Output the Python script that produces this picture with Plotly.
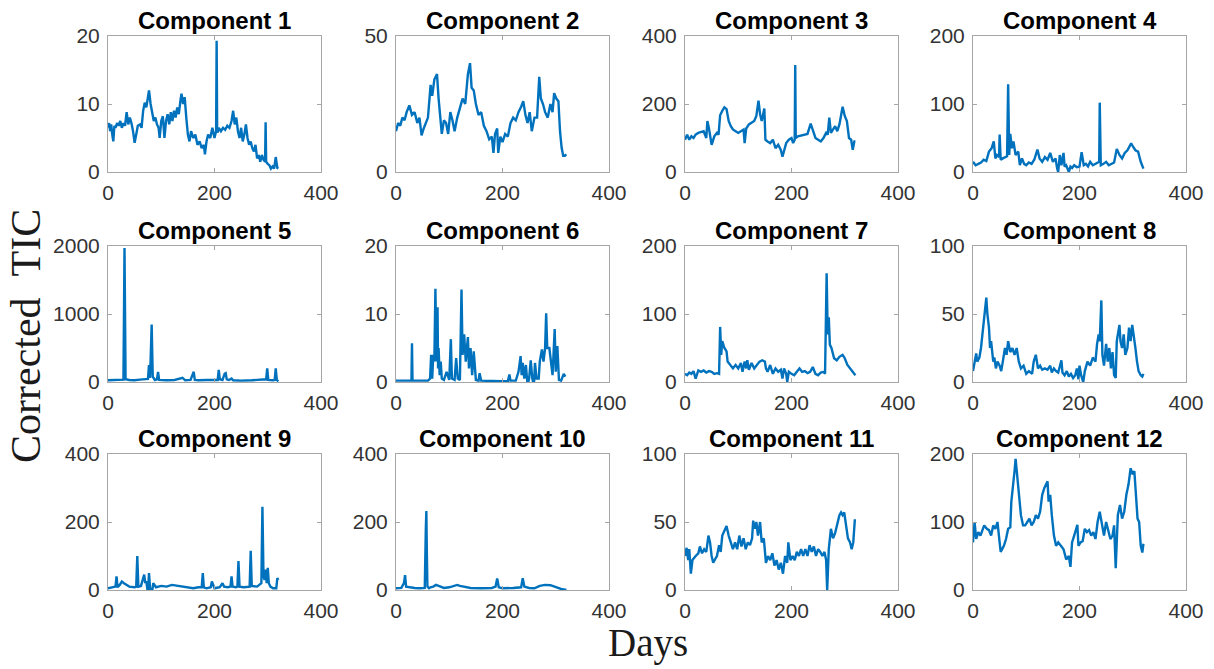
import plotly.graph_objects as go
from plotly.subplots import make_subplots

W, H = 1214, 669

# ---------------- data ----------------
days_c1 = [0,2,4,6,8,10,12,14,17,20,23,26,29,32,35,38,41,44,47,50,53,56,60,63,66,69,72,75,77,80,83,86,89,92,95,97,100,103,106,109,112,115,118,121,124,127,130,133,136,138,141,144,147,150,153,156,160,164,168,172,176,180,182,185,188,192,196,200,203,204,205,206,208,212,216,220,224,228,232,235,238,241,244,247,250,253,256,259,262,265,268,271,274,277,280,283,286,289,292,295,296,297,300,303,306,309,312,315,318,320]
tic_c1 = [6.5,7.2,6.0,7.0,5.5,4.5,6.8,6.5,7.2,6.8,7.5,6.5,7.2,6.8,8.8,7.0,8.0,7.2,6.0,4.3,5.5,6.8,7.0,6.5,9.0,10.2,9.5,11.0,12.0,10.0,8.5,7.5,8.0,7.0,6.5,5.0,7.5,8.2,5.0,7.5,8.5,7.0,8.8,7.5,9.0,8.0,9.5,8.5,10.5,11.5,10.0,11.0,8.0,5.5,4.5,6.0,5.0,5.5,4.0,4.5,3.5,4.0,2.6,4.5,5.5,5.0,6.5,5.0,6.0,19.3,6.0,5.8,6.5,6.0,6.5,6.2,6.8,6.5,7.5,9.0,7.0,8.0,6.0,5.0,6.5,4.5,5.5,7.0,5.0,4.0,4.5,3.5,3.0,4.0,2.0,2.5,1.5,2.5,1.8,1.5,7.3,1.5,1.2,1.0,0.5,0.8,0.5,2.2,0.6,0.5]

days_c2 = [0,4,8,12,16,20,25,30,35,40,44,48,52,56,60,65,68,72,77,80,83,86,90,94,98,102,106,110,115,120,125,130,135,139,142,146,150,155,160,165,170,175,180,183,186,190,192,196,200,205,210,215,220,225,230,235,239,243,247,251,255,260,265,269,272,276,280,285,290,294,297,301,305,308,311,314,317,320]
tic_c2 = [15,18,17,20,19,22,24.5,21,22,18,20,13.5,16,18,20,32,28,34,36,27,20,14,19,18,14,22,19,15,20,24,27,25,36,40,31,30,25,21,22,17,15,12,13,7,14,16,7,13,11,14,13,18,20,19,22,24,26,21,18,22,15,20,20,35,27,25,22,20,25,22,29,27,26,15,9,6,6,6.5]

days_c3 = [0,4,8,12,16,20,25,30,35,40,42,45,50,55,60,63,66,70,74,78,82,86,90,95,100,105,110,112,115,120,125,130,134,138,141,144,149,151,155,160,165,170,175,180,183,186,190,195,200,203,206,207,208,212,218,224,230,236,240,245,250,255,260,265,268,271,274,278,282,286,290,296,300,304,308,312,315,318,320]
tic_c3 = [95,110,95,105,100,110,115,118,120,100,150,128,80,105,115,110,167,180,190,185,150,135,125,120,115,120,125,85,128,140,145,150,165,210,170,150,187,95,90,85,95,70,80,65,45,65,85,95,100,85,95,315,100,105,108,110,112,142,120,100,95,90,100,115,110,160,115,125,135,120,140,192,165,150,100,95,65,90,90]

days_c4 = [0,5,10,15,20,25,30,35,39,42,45,49,50,52,56,60,64,66,68,70,73,76,80,85,88,92,96,100,105,110,115,121,125,130,135,140,145,150,155,158,160,163,166,170,172,175,180,183,186,190,195,200,204,208,212,216,220,225,230,235,237,238,240,245,250,255,260,265,270,275,280,285,290,297,300,305,310,315,320]
tic_c4 = [15,10,12,14,18,16,30,35,45,20,25,22,55,18,20,22,23,129,25,56,35,45,25,30,10,20,12,10,14,12,18,33,20,15,22,18,28,15,20,5,0,25,10,28,8,10,0,8,6,10,7,8,29,10,12,8,15,10,12,14,15,102,10,12,15,10,12,14,34,25,20,28,32,42,38,32,30,15,5]

days_c5 = [0,10,20,29,31,33,40,50,60,70,75,77,79,82,84,88,92,94,96,110,125,140,145,155,161,163,170,185,200,206,208,210,215,219,221,223,227,232,235,250,270,290,297,299,301,310,313,315,317,320]
tic_c5 = [25,30,25,35,1970,40,30,25,35,40,45,250,60,844,80,30,40,150,30,25,30,60,25,30,150,30,25,30,25,30,180,40,30,120,130,40,30,50,25,20,25,30,40,200,30,25,30,200,30,10]

days_c6 = [0,10,20,29,30,31,45,60,64,66,68,70,72,74,76,78,79,80,82,84,86,90,95,100,103,105,110,113,116,120,123,125,128,131,135,137,140,143,146,150,155,157,160,180,200,210,213,215,225,230,234,236,238,241,244,247,250,253,256,259,261,264,268,270,274,277,280,282,284,288,291,294,298,300,303,306,310,315,318]
tic_c6 = [0.2,0.2,0.2,0.2,5.7,0.2,0.2,0.2,0.5,4,0.5,4,3,13.7,3,11,2,5,1,3,0.5,0.3,1.5,0.3,6.3,0.5,0.3,3.5,0.5,0.3,13.6,4,7,3,6.6,2,5,1,4.5,0.3,0.2,1.3,0.2,0.1,0.1,0.1,1.1,0.2,0.2,1.5,3.8,1,2.8,0.5,2.5,-0.5,0.5,3.2,0.5,-0.5,2.8,0.5,0.5,3,4.8,3,5,10.1,5,5,3,1,7.8,1.5,5.3,0.3,0.2,1.2,0.8]

days_c7 = [0,4,8,12,16,20,25,30,35,40,45,50,55,60,64,66,68,70,74,78,80,85,90,95,100,105,108,112,115,117,120,125,130,135,140,145,150,152,155,160,165,170,175,180,183,186,190,192,195,200,205,210,215,220,225,230,235,240,245,250,255,260,263,266,268,270,272,275,280,285,290,296,300,305,310,315,320]
tic_c7 = [12,10,14,12,16,5,17,15,17,14,16,15,12,13,12,81,40,60,50,45,30,25,20,25,20,28,15,30,20,32,18,28,20,25,30,32,30,20,15,25,12,20,15,18,5,20,12,0,15,12,10,15,20,15,16,13,15,22,12,10,14,15,12,160,70,95,55,50,35,32,37,40,35,25,20,15,10]

days_c8 = [0,3,6,8,12,15,18,20,23,25,27,30,32,34,38,40,43,46,50,53,56,60,63,66,70,74,78,82,86,90,95,100,105,111,114,118,122,126,130,135,140,145,148,152,156,160,166,168,172,176,180,184,188,192,195,198,200,203,207,210,215,220,225,230,233,236,238,241,243,246,250,253,256,259,262,265,268,270,275,277,280,283,286,290,293,296,299,302,305,308,311,315,318,320]
tic_c8 = [8,15,21,15,18,25,35,45,55,62,50,40,25,30,15,18,10,15,12,8,15,25,20,30,22,25,20,25,15,10,12,6,8,6,15,20,10,12,9,10,9,12,7,10,8,7,16,7,5,8,4,6,3,5,10,2,12,5,0,8,15,12,18,15,28,35,30,60,20,12,28,15,25,10,22,5,3,30,42,30,25,35,20,25,40,30,42,35,25,15,8,5,4,6]

days_c9 = [0,8,14,16,18,22,26,30,35,40,50,53,55,57,62,68,70,72,75,77,79,82,85,90,100,110,120,130,140,150,160,170,176,178,180,185,193,195,200,210,215,218,225,230,232,234,240,243,245,247,255,266,268,270,280,288,290,292,294,296,298,300,302,305,310,316,318,320]
tic_c9 = [5,8,10,40,8,15,25,20,15,10,8,10,100,10,12,45,20,25,-10,50,5,-15,20,8,12,10,15,12,10,8,5,8,8,50,8,5,8,25,5,8,20,10,8,10,40,10,8,10,85,10,8,10,115,12,10,20,245,40,30,60,20,65,20,10,5,5,35,30]

days_c10 = [0,10,15,17,19,25,35,45,54,56,57,58,59,62,65,70,75,80,90,100,110,115,120,125,140,160,180,187,190,193,200,220,235,238,241,250,260,270,280,290,300,310,320]
tic_c10 = [5,6,20,44,10,8,6,5,6,180,232,100,10,5,8,10,15,12,6,8,12,15,12,10,6,5,6,10,34,8,5,6,8,35,10,6,5,12,15,14,8,3,0]

days_c11 = [0,3,6,8,11,14,20,25,28,32,36,40,44,47,50,53,57,60,64,67,70,75,78,82,86,90,94,98,102,106,110,114,118,122,126,128,131,134,137,141,144,148,152,156,160,164,168,172,176,180,184,188,192,194,198,202,206,210,214,218,222,226,230,234,238,242,246,250,254,258,262,265,267,270,274,278,282,286,290,293,296,299,302,306,310,313,316,319]
tic_c11 = [25,31,22,30,12,22,25,27,32,27,30,28,40,35,25,20,23,25,33,28,40,45,47,40,35,30,35,30,40,32,38,30,35,33,38,51,45,50,40,50,35,38,20,25,22,27,18,22,15,20,12,25,20,35,22,25,22,28,25,30,25,30,25,33,28,32,25,30,28,25,28,22,0,30,45,38,42,48,55,57,55,57,50,38,35,30,35,52]

days_c12 = [0,3,6,10,14,18,21,26,30,34,38,42,46,50,52,58,62,66,70,72,75,78,80,83,86,90,94,98,102,106,110,114,118,122,126,130,134,140,142,145,148,152,156,160,165,170,175,180,183,186,190,196,198,202,206,210,214,218,222,226,230,234,238,242,246,250,254,258,262,265,268,272,276,280,284,288,292,296,300,303,306,309,312,315,318,320]
tic_c12 = [70,100,75,85,80,90,95,90,88,80,95,90,100,70,56,65,75,90,92,130,150,175,193,165,140,110,95,95,100,105,95,100,110,105,115,140,150,160,130,140,110,80,65,70,65,60,45,50,34,70,80,96,65,70,72,90,85,88,80,85,75,100,115,95,80,100,85,75,80,95,32,110,125,105,115,140,155,179,170,175,140,105,100,65,55,68]

titles = ["Component %d" % i for i in range(1, 13)]
y_max = [20, 50, 400, 200, 2000, 20, 200, 100, 400, 400, 100, 200]
y_ticks = [[0, 10, 20], [0, 50], [0, 200, 400], [0, 100, 200],
           [0, 1000, 2000], [0, 10, 20], [0, 100, 200], [0, 50, 100],
           [0, 200, 400], [0, 200, 400], [0, 50, 100], [0, 100, 200]]
x_ticks = [0, 200, 400]
series = [(days_c1, tic_c1), (days_c2, tic_c2), (days_c3, tic_c3), (days_c4, tic_c4),
          (days_c5, tic_c5), (days_c6, tic_c6), (days_c7, tic_c7), (days_c8, tic_c8),
          (days_c9, tic_c9), (days_c10, tic_c10), (days_c11, tic_c11), (days_c12, tic_c12)]

# ---------------- layout geometry (pixels) ----------------
col_left = [108, 396, 685, 973]
row_top = [36, 246, 454]
pw, ph = 213, 136

fig = make_subplots(rows=3, cols=4)
LINE = "#0072BD"
AX = "#a6a6a6"
TICKFONT = dict(family="Liberation Sans, Arial, sans-serif", size=21, color="#333333")

annotations = []
for i, (xs, ys) in enumerate(series):
    r, c = divmod(i, 4)
    fig.add_trace(go.Scatter(x=xs, y=ys, mode="lines",
                             line=dict(color=LINE, width=2.4), showlegend=False),
                  row=r + 1, col=c + 1)
    x0 = col_left[c] / W
    x1 = (col_left[c] + pw) / W
    y1 = 1 - row_top[r] / H
    y0 = 1 - (row_top[r] + ph) / H
    sfx = "" if i == 0 else str(i + 1)
    ym = y_max[i]
    fig.layout["xaxis" + sfx].update(
        domain=[x0, x1], range=[0, 400], tickvals=x_ticks, automargin=False,
        showline=True, linecolor=AX, linewidth=1, mirror="ticks",
        ticks="inside", ticklen=4, tickcolor=AX, showgrid=False, zeroline=False,
        tickfont=TICKFONT, ticklabelstandoff=2)
    fig.layout["yaxis" + sfx].update(
        domain=[y0, y1], range=[0, ym], tickvals=y_ticks[i], automargin=False,
        showline=True, linecolor=AX, linewidth=1, mirror="ticks",
        ticks="inside", ticklen=4, tickcolor=AX, showgrid=False, zeroline=False,
        tickfont=TICKFONT, ticklabelstandoff=3)
    annotations.append(dict(text="<b>" + titles[i] + "</b>", xref="paper", yref="paper",
                            x=(x0 + x1) / 2, y=y1, xanchor="center", yanchor="bottom",
                            yshift=0, showarrow=False,
                            font=dict(family="Liberation Sans, Arial, sans-serif", size=24, color="#000000")))

annotations.append(dict(text="Corrected\u00a0\u00a0TIC", xref="paper", yref="paper",
                        x=26 / W, y=1 - 336 / H, xanchor="center", yanchor="middle",
                        textangle=-90, showarrow=False,
                        font=dict(family="Liberation Serif, Times New Roman, serif", size=42, color="#1a1a1a")))
annotations.append(dict(text="Days", xref="paper", yref="paper",
                        x=648 / W, y=1 - 643 / H, xanchor="center", yanchor="middle",
                        showarrow=False,
                        font=dict(family="Liberation Serif, Times New Roman, serif", size=39, color="#1a1a1a")))

fig.update_layout(width=W, height=H, margin=dict(l=0, r=0, t=0, b=0, autoexpand=False),
                  paper_bgcolor="white", plot_bgcolor="white",
                  annotations=annotations, showlegend=False)

fig.write_html("out.html")
